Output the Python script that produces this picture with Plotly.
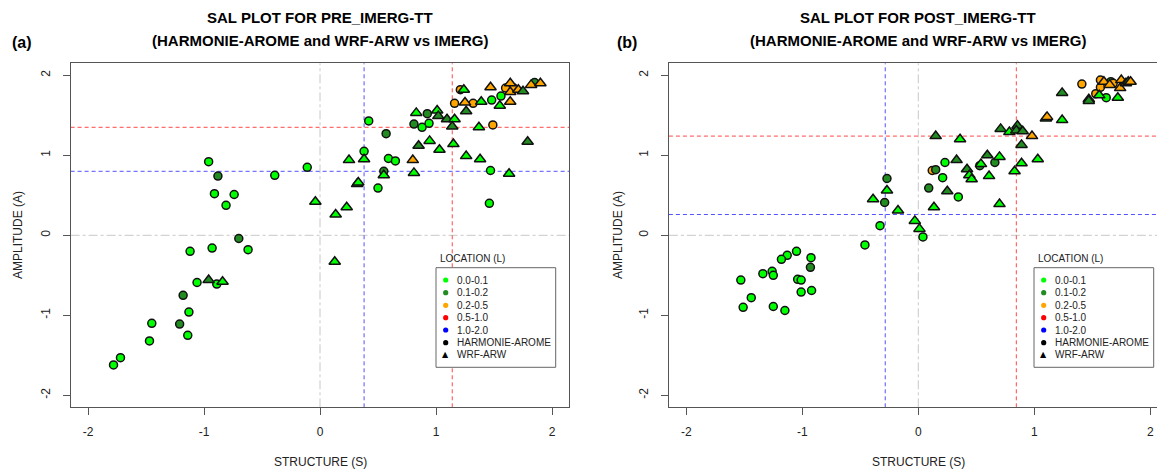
import plotly.graph_objects as go

# ---------------- DATA ----------------
tick_vals = [-2, -1, 0, 1, 2]
tick_text = ["-2", "-1", "0", "1", "2"]
loc_labels = ["0.0-0.1", "0.1-0.2", "0.2-0.5", "0.5-1.0", "1.0-2.0"]
loc_colors = ["#00FF00", "#228B22", "#FFA500", "#FF0000", "#0000FF"]
model_labels = ["HARMONIE-AROME", "WRF-ARW"]

# Panel (a) PRE_IMERG-TT : HARMONIE-AROME (circles)
pre_h_S = [-0.96, -0.88, -0.91, -0.74, -0.81, -0.39, -0.11, -0.70, -0.62, -0.93, -1.12, -1.06, -0.89,
           -1.18, -1.13, -1.45, -1.21, -1.14, -1.47, -1.72, -1.78, 0.38, 0.42, 0.57, 0.50, 0.59, 0.65,
           0.55, 0.81, 0.88, 0.94, 0.925, 1.47, 1.46, 1.49, 1.16, 1.32, 1.21, 1.48, 1.56, 1.60, 1.67, 1.85]
pre_h_A = [0.92, 0.74, 0.52, 0.51, 0.375, 0.75, 0.85, -0.04, -0.18, -0.16, -0.20, -0.59, -0.61,
           -0.75, -0.96, -1.10, -1.11, -1.25, -1.32, -1.53, -1.62, 1.05, 1.43, 1.27, 0.59, 0.96, 0.93,
           0.80, 1.39, 1.35, 1.40, 1.52, 0.81, 0.40, 1.38, 1.65, 1.65, 1.82, 1.69, 1.74, 1.84, 1.84, 1.91]
pre_h_L = [0, 1, 0, 0, 0, 0, 0, 1, 0, 0, 0, 0, 0,
           1, 0, 0, 1, 0, 0, 0, 0, 0, 0, 1, 0, 0, 0,
           1, 1, 0, 0, 1, 0, 0, 2, 2, 2, 2, 0, 0, 2, 2, 1]

# Panel (a) PRE_IMERG-TT : WRF-ARW (triangles)
pre_w_S = [-0.96, -0.84, -0.04, 0.135, 0.23, 0.127, 0.25, 0.32, 0.33, 0.38, 0.55, 0.80, 0.81, 0.85,
           0.945, 1.03, 0.83, 1.01, 1.02, 1.095, 1.16, 1.14, 1.15, 1.26, 1.38, 1.63, 1.79, 1.37, 1.25,
           1.39, 1.26, 1.24, 1.47, 1.55, 1.64, 1.64, 1.64, 1.71, 1.75, 1.82, 1.90]
pre_w_A = [-0.56, -0.58, 0.42, 0.26, 0.35, -0.33, 0.94, 0.64, 0.66, 0.95, 0.75, 0.94, 0.78, 1.12,
           1.18, 1.07, 1.53, 1.56, 1.49, 1.45, 1.45, 1.36, 1.14, 0.99, 0.95, 0.77, 1.17, 1.35, 1.66,
           1.67, 1.55, 1.82, 1.85, 1.62, 1.67, 1.90, 1.79, 1.82, 1.80, 1.88, 1.90]
pre_w_L = [1, 0, 0, 0, 0, 0, 0, 1, 0, 0, 0, 2, 0, 1,
           0, 0, 0, 0, 1, 1, 0, 1, 0, 0, 0, 0, 1, 0, 2,
           0, 1, 0, 2, 0, 2, 2, 2, 2, 1, 2, 2]

# Panel (b) POST_IMERG-TT : HARMONIE-AROME (circles)
post_h_S = [-0.27, -0.29, -0.33, -0.46, 0.04, -0.925, -0.93, -1.05, -1.13, -1.18, -1.26, -1.25, -1.34,
            -1.53, -1.04, -1.01, -0.92, -1.01, -1.44, -1.51, -1.25, -1.15, 0.09, 0.21, 0.12, 0.15,
            0.23, 0.345, 0.53, 0.66, 1.62, 1.53, 1.41, 1.57, 1.57, 1.66, 1.68]
post_h_A = [0.71, 0.41, 0.12, -0.12, -0.02, -0.28, -0.40, -0.20, -0.25, -0.30, -0.45, -0.50, -0.48,
            -0.56, -0.55, -0.56, -0.69, -0.71, -0.78, -0.90, -0.89, -0.94, 0.59, 0.72, 0.81, 0.82,
            0.91, 0.48, 0.87, 0.91, 1.72, 1.77, 1.89, 1.94, 1.85, 1.92, 1.90]
post_h_L = [1, 1, 0, 0, 0, 0, 1, 0, 0, 0, 0, 0, 0,
            0, 0, 0, 0, 0, 0, 0, 0, 0, 1, 0, 2, 1,
            0, 0, 1, 1, 0, 2, 2, 2, 2, 1, 2]

# Panel (b) POST_IMERG-TT : WRF-ARW (triangles)
post_w_S = [-0.27, -0.39, -0.175, -0.03, 0.01, 0.135, 0.15, 0.36, 0.25, 0.33, 0.42, 0.44, 0.46, 0.54,
            0.595, 0.61, 0.70, 0.70, 0.83, 0.89, 1.03, 0.89, 0.71, 0.785, 0.855, 0.845, 0.90, 0.98,
            1.10, 1.11, 1.24, 1.24, 1.47, 1.47, 1.56, 1.72, 1.60, 1.65, 1.75, 1.74, 1.79, 1.81, 1.83]
post_w_A = [0.56, 0.45, 0.31, 0.18, 0.08, 0.35, 1.24, 1.20, 0.55, 0.94, 0.825, 0.75, 0.70, 0.89,
            1.00, 0.74, 0.98, 0.39, 0.80, 0.90, 0.95, 1.13, 1.33, 1.29, 1.37, 1.31, 1.30, 1.24,
            1.46, 1.48, 1.44, 1.78, 1.70, 1.68, 1.75, 1.72, 1.92, 1.88, 1.94, 1.84, 1.90, 1.92, 1.92]
post_w_L = [0, 0, 0, 0, 0, 0, 1, 0, 1, 1, 1, 0, 0, 0,
            1, 0, 0, 0, 0, 0, 0, 1, 1, 0, 1, 1, 1, 2,
            1, 2, 0, 1, 1, 1, 0, 0, 2, 2, 2, 2, 2, 1, 2]

# Median reference lines (blue = HARMONIE-AROME, red = WRF-ARW)
pre_blue_S, pre_blue_A = 0.38, 0.80
pre_red_S, pre_red_A = 1.14, 1.35
post_blue_S, post_blue_A = -0.285, 0.26
post_red_S, post_red_A = 0.845, 1.24

# ---------------- FIGURE ----------------
W, H = 1157, 469
def fx(px):
    return px / W
def fy(py):
    return 1 - py / H

FONT = "Liberation Sans, Arial, sans-serif"
AXC = "#555555"

fig = go.Figure()

def add_points(S, A, L, symbol, size, xa, ya):
    fig.add_trace(go.Scatter(
        x=S, y=A, mode="markers", xaxis=xa, yaxis=ya, showlegend=False, hoverinfo="skip",
        marker=dict(symbol=symbol, size=size, color=[loc_colors[i] for i in L],
                    line=dict(color="#111111", width=1.5))))

add_points(pre_h_S, pre_h_A, pre_h_L, "circle", 8, "x", "y")
add_points(pre_w_S, pre_w_A, pre_w_L, "triangle-up", 10, "x", "y")
add_points(post_h_S, post_h_A, post_h_L, "circle", 8, "x2", "y2")
add_points(post_w_S, post_w_A, post_w_L, "triangle-up", 10, "x2", "y2")

ydom = [fy(407.3), fy(63.3)]
common = dict(tickvals=tick_vals, ticktext=tick_text, ticks="outside", ticklen=7, tickcolor=AXC,
              tickwidth=1, showline=True, linecolor=AXC, linewidth=1, showgrid=False, zeroline=False,
              tickfont=dict(family=FONT, size=12, color="#222222"))
fig.update_layout(
    width=W, height=H, margin=dict(l=0, r=0, t=0, b=0),
    paper_bgcolor="white", plot_bgcolor="white",
    xaxis=dict(domain=[fx(70.6), fx(569.4)], range=[-2.15, 2.15], mirror=True,
               ticklabelstandoff=6, **common),
    yaxis=dict(domain=ydom, range=[-2.15, 2.15], mirror=True, tickangle=-90,
               ticklabelstandoff=8, **common),
    xaxis2=dict(domain=[fx(668.9), 1.0], range=[-2.15, (W - 918.3) / 116], mirror=True,
                ticklabelstandoff=6, anchor="y2", **common),
    yaxis2=dict(domain=ydom, range=[-2.15, 2.15], mirror=False, tickangle=-90, anchor="x2",
                ticklabelstandoff=8, **common),
)

shapes = []
def ref_lines(xa, ya, bS, bA, rS, rA):
    grey = dict(color="#C8C8C8", width=1, dash="dashdot")
    blue = dict(color="rgba(40,40,255,0.8)", width=1, dash="4px,3px")
    red = dict(color="rgba(255,40,40,0.85)", width=1, dash="4px,3px")
    shapes.append(dict(type="line", xref=xa, yref=ya + " domain", x0=0, x1=0, y0=0, y1=1, line=grey, layer="below"))
    shapes.append(dict(type="line", xref=xa + " domain", yref=ya, x0=0, x1=1, y0=0, y1=0, line=grey, layer="below"))
    shapes.append(dict(type="line", xref=xa, yref=ya + " domain", x0=bS, x1=bS, y0=0, y1=1, line=blue, layer="below"))
    shapes.append(dict(type="line", xref=xa + " domain", yref=ya, x0=0, x1=1, y0=bA, y1=bA, line=blue, layer="below"))
    shapes.append(dict(type="line", xref=xa, yref=ya + " domain", x0=rS, x1=rS, y0=0, y1=1, line=red, layer="below"))
    shapes.append(dict(type="line", xref=xa + " domain", yref=ya, x0=0, x1=1, y0=rA, y1=rA, line=red, layer="below"))

ref_lines("x", "y", pre_blue_S, pre_blue_A, pre_red_S, pre_red_A)
ref_lines("x2", "y2", post_blue_S, post_blue_A, post_red_S, post_red_A)

ann = []
def text(px, py, t, size=12, bold=False, xanchor="center", angle=0, color="#222222"):
    ann.append(dict(x=fx(px), y=fy(py), xref="paper", yref="paper", text=("<b>%s</b>" % t) if bold else t,
                    showarrow=False, xanchor=xanchor, yanchor="middle", textangle=angle,
                    font=dict(family=FONT, size=size, color=color)))

for cx, name, tag, tagx in [(320, "PRE_IMERG-TT", "(a)", 22), (918, "POST_IMERG-TT", "(b)", 627)]:
    text(cx, 18, "SAL PLOT FOR " + name, size=15, bold=True, color="black")
    text(cx, 40, "(HARMONIE-AROME and WRF-ARW vs IMERG)", size=15, bold=True, color="black")
    text(tagx, 43, tag, size=16, bold=True, color="black")
    text(cx, 462, "STRUCTURE (S)", size=12)
for ax_x in [18, 618]:
    text(ax_x, 235, "AMPLITUDE (A)", size=12, angle=-90)

# custom legends
def legend(dx):
    shapes.append(dict(type="rect", xref="paper", yref="paper", x0=fx(436 + dx), x1=fx(555.7 + dx),
                       y0=fy(367.3), y1=fy(267.7), line=dict(color="#666666", width=1),
                       fillcolor="white", layer="above"))
    text(437.7 + dx, 258.7, "LOCATION (L)", size=10, xanchor="left")
    ys = [280, 292.7, 305.3, 317.7, 330, 342.7, 354.7]
    labels = loc_labels + model_labels
    for i, (yy, lab) in enumerate(zip(ys, labels)):
        text(455 + dx, yy, lab, size=10, xanchor="left")
        if i < 6:
            shapes.append(dict(type="circle", xref="paper", yref="paper", xsizemode="pixel",
                               ysizemode="pixel", xanchor=fx(445.7 + dx), yanchor=fy(yy),
                               x0=-2.6, x1=2.6, y0=-2.6, y1=2.6,
                               fillcolor=loc_colors[i] if i < 5 else "black",
                               line=dict(width=0), layer="above"))
        else:
            ann.append(dict(x=fx(445.7 + dx), y=fy(yy), xref="paper", yref="paper", text="▲",
                            showarrow=False, xanchor="center", yanchor="middle",
                            font=dict(family="DejaVu Sans", size=8, color="black")))

legend(0)
legend(598)

fig.update_layout(shapes=shapes, annotations=ann)
fig.write_html("out.html")
